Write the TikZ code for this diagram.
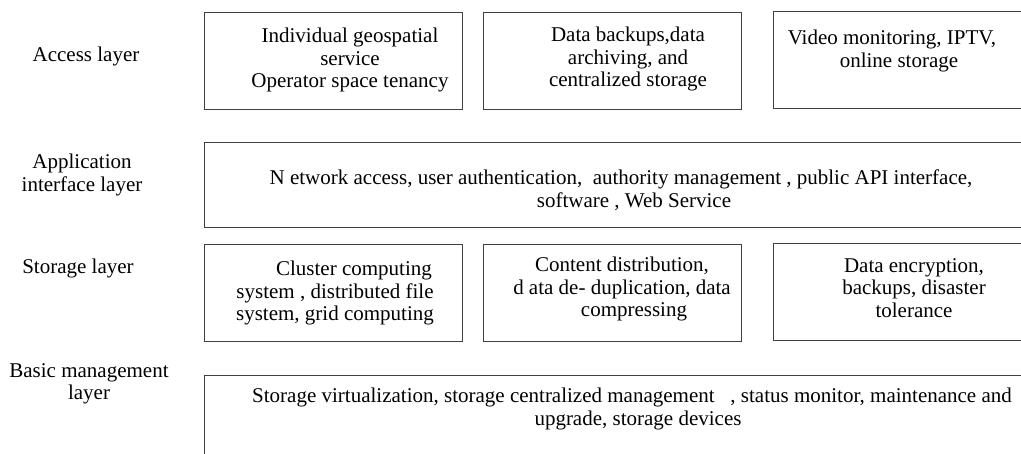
\documentclass[tikz,border=0pt]{standalone}
\usepackage{fontspec}
\setmainfont{Liberation Serif}
\begin{document}
\begin{tikzpicture}
 [x=1pt,y=-1pt,
   every node/.style={font=\fontsize{21}{22.5}\selectfont,align=center,inner sep=0pt},
   box/.style={draw=black!75,line width=0.9pt,minimum width=258pt,minimum height=97pt},
   wide/.style={box,minimum width=827pt,minimum height=85pt}]
  \useasboundingbox (0,0) rectangle (1021,454);
  \clip (0,0) rectangle (1021,454);
  % layer names
  \node (access) at (86,56) {Access layer};
  \node (appl) at (82,175) {Application\\interface layer};
  \node (stor) at (78,268) {Storage layer};
  \node (basic) at (89,384) {Basic management\\layer};
  % access layer
  \node[box] (acc1) at (333,60.5) {};
  \node[box] (acc2) at (612,61) {};
  \node[box] (acc3) at (902,59.5) {};
  \node (acc1t) at (350,60) {Individual geospatial\\service\\Operator space tenancy};
  \node (acc2t) at (628,59) {Data backups,data\\archiving, and\\centralized storage};
  \node (acc3t) at (892,51) {Video monitoring, IPTV,\\\hspace*{14pt}online storage};
  % application interface layer
  \node[wide] (api) at (617.5,184.5) {};
  \node (apit) at (621,190) {N etwork access, user authentication,\ \ authority management , public API interface,\\\hspace*{26pt}software , Web Service};
  % storage layer
  \node[box] (sto1) at (333,292.5) {};
  \node[box] (sto2) at (612,292.5) {};
  \node[box] (sto3) at (902,292) {};
  \node (sto1t) at (335,293) {\hspace*{38pt}Cluster computing\\system , distributed file\\system, grid computing};
  \node (sto2t) at (622,289) {Content distribution,\\d ata de- duplication, data\\\hspace*{24pt}compressing};
  \node (sto3t) at (914,288) {Data encryption,\\backups, disaster\\tolerance};
  % basic management layer
  \node[wide,minimum height=110pt] (bas) at (617.5,430) {};
  \node (bast) at (632,409) {Storage virtualization, storage centralized management\ \ \ , status monitor, maintenance and\\\hspace*{12pt}upgrade, storage devices};
\end{tikzpicture}
\end{document}
